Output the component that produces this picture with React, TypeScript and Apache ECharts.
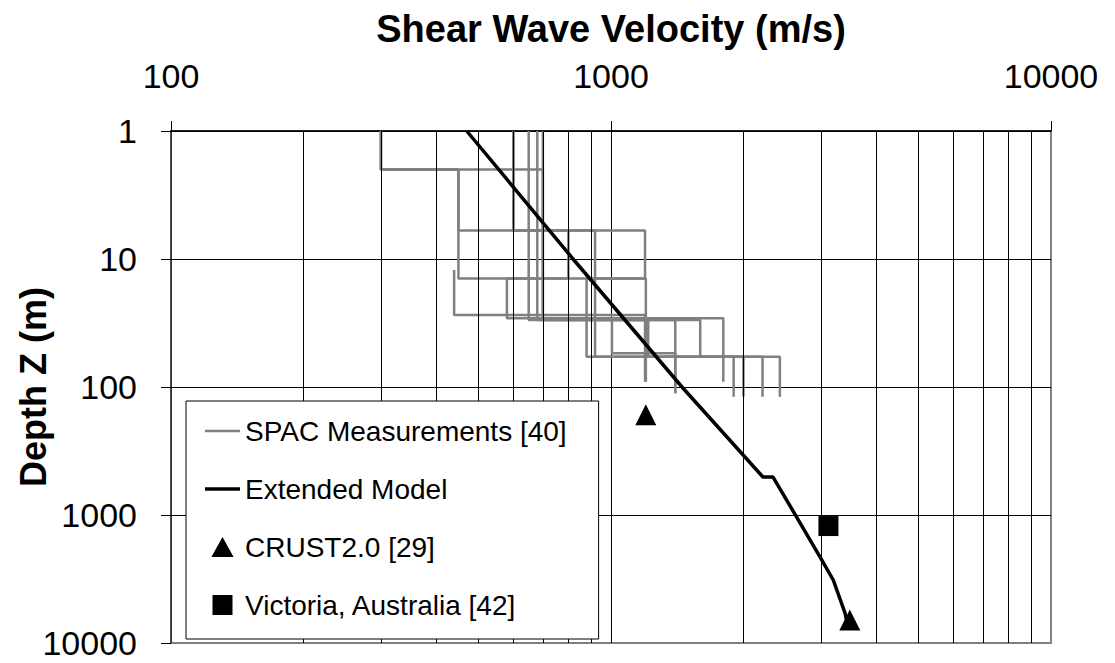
import React, { useEffect, useRef } from 'react';
import * as echarts from 'echarts';

const FONT = '"Liberation Sans", Arial, Helvetica, sans-serif';

// Axis ranges and minor vertical grid positions (m/s)
const velocityRange = [100, 10000];
const depthRange = [1, 10000];
const minorVelocityGrid = [200, 300, 400, 500, 600, 700, 800, 900, 2000, 3000, 4000, 5000, 6000, 7000, 8000, 9000];

// SPAC site profiles: layer velocities (m/s) and layer boundary depths (m)
const spacVelocities = [
  [300, 450, 1200],
  [300, 700, 1400],
  [650, 1215, 2000],
  [680, 1595, 2210],
  [700, 1800],
  [600, 920, 2420],
  [300, 450, 1195, 880, 1900],
  [600, 800, 580, 1005, 1400],
  [440, 1195],
];
const spacDepths = [
  [1, 2, 14.2, 91],
  [1, 2, 30, 112],
  [1, 30, 58, 119],
  [1, 30, 58, 119],
  [1, 29, 91],
  [1, 6, 58, 119],
  [1, 2, 6, 14.2, 58, 119],
  [1, 6, 14.2, 29, 54.6, 112],
  [12.2, 27.4, 91],
];

// Extended velocity model
const modelVelocity = [470, 820, 1450, 2215, 2335, 2985, 3200, 3405, 3460];
const modelDepth = [1, 10, 100, 505, 505, 2120, 3220, 5870, 7700];

// Reference points
const crustVelocity = [1200, 3490];
const crustDepth = [165, 6600];
const victoriaVelocity = [3120];
const victoriaDepth = [1220];

const SPAC_NAME = 'SPAC Measurements [40]';
const MODEL_NAME = 'Extended Model';
const CRUST_NAME = 'CRUST2.0 [29]';
const VIC_NAME = 'Victoria, Australia [42]';

function stepProfile(v: number[], d: number[]) {
  const pts: number[][] = [];
  for (let i = 0; i < v.length; i++) {
    pts.push([v[i], d[i]]);
    pts.push([v[i], d[i + 1]]);
  }
  return pts;
}

function zip(a: number[], b: number[]) {
  return a.map((x, i) => [x, b[i]]);
}

export default function App() {
  const ref = useRef<HTMLDivElement>(null);

  useEffect(() => {
    document.body.style.margin = '0';
    const chart = echarts.init(ref.current!, null, { renderer: 'svg' });

    const spacSeries = spacVelocities.map((v, i) => ({
      name: SPAC_NAME,
      type: 'line',
      data: stepProfile(v, spacDepths[i]),
      symbol: 'none',
      lineStyle: { color: '#808080', width: 2.5 },
      itemStyle: { color: '#808080' },
      z: 2,
      silent: true,
    }));

    chart.setOption({
      animation: false,
      backgroundColor: '#fff',
      textStyle: { fontFamily: FONT },
      grid: {
        left: 171,
        right: 64,
        top: 131,
        bottom: 20,
        outerBoundsMode: 'none',
        containLabel: false,
        show: true,
        borderColor: '#808080',
        borderWidth: 2,
        backgroundColor: 'transparent',
      },
      legend: {
        orient: 'vertical',
        left: 186,
        top: 401,
        padding: [16, 32, 20, 19],
        itemWidth: 35,
        itemHeight: 20,
        itemGap: 30,
        borderColor: '#000',
        borderWidth: 1,
        backgroundColor: '#fff',
        selectedMode: false,
        symbolKeepAspect: true,
        textStyle: { fontSize: 28, color: '#000', fontFamily: FONT, lineHeight: 28 },
        data: [
          { name: SPAC_NAME, icon: 'path://M0,0H35V2.5H0Z' },
          { name: MODEL_NAME, icon: 'path://M0,0H35V3.5H0Z' },
          { name: CRUST_NAME, icon: 'path://M10,0L20,18L0,18Z' },
          { name: VIC_NAME, icon: 'path://M0,0H18V18H0Z' },
        ],
        z: 10,
      },
      xAxis: {
        type: 'log',
        logBase: 10,
        min: velocityRange[0],
        max: velocityRange[1],
        position: 'top',
        name: 'Shear Wave Velocity (m/s)',
        nameLocation: 'middle',
        nameGap: 83,
        nameTextStyle: { fontSize: 38, fontWeight: 'bold', color: '#000', fontFamily: FONT },
        axisLine: { show: true, lineStyle: { color: '#000', width: 1.5 } },
        axisTick: { show: true, length: 10, lineStyle: { color: '#000', width: 1 } },
        axisLabel: {
          fontSize: 34,
          color: '#000',
          margin: 38,
          fontFamily: FONT,
          formatter: (val: number) => String(Math.round(val)),
        },
        splitLine: { show: true, showMaxLine: false, lineStyle: { color: '#000', width: 1 } },
      },
      yAxis: {
        type: 'log',
        logBase: 10,
        min: depthRange[0],
        max: depthRange[1],
        inverse: true,
        name: 'Depth Z (m)',
        nameLocation: 'middle',
        nameRotate: 90,
        nameGap: 120,
        nameMoveOverlap: false,
        nameTextStyle: { fontSize: 36, fontWeight: 'bold', color: '#000', fontFamily: FONT },
        axisLine: { show: true, lineStyle: { color: '#404040', width: 1.5 } },
        axisTick: { show: true, length: 10, lineStyle: { color: '#000', width: 1 } },
        axisLabel: {
          fontSize: 34,
          color: '#000',
          margin: 34,
          fontFamily: FONT,
          formatter: (val: number) => String(Math.round(val)),
        },
        splitLine: { show: true, showMaxLine: false, lineStyle: { color: '#000', width: 1 } },
      },
      series: [
        {
          type: 'line',
          data: [],
          silent: true,
          z: 1,
          markLine: {
            silent: true,
            symbol: ['none', 'none'],
            label: { show: false },
            emphasis: { disabled: true },
            lineStyle: { color: '#000', width: 1, type: 'solid' },
            data: minorVelocityGrid.map((v) => ({ xAxis: v })),
          },
        },
        ...spacSeries,
        {
          name: MODEL_NAME,
          type: 'line',
          data: zip(modelVelocity, modelDepth),
          symbol: 'none',
          lineStyle: { color: '#000', width: 3.5 },
          itemStyle: { color: '#000' },
          z: 3,
          silent: true,
        },
        {
          name: CRUST_NAME,
          type: 'scatter',
          data: zip(crustVelocity, crustDepth),
          symbol: 'triangle',
          symbolSize: 21,
          itemStyle: { color: '#000', opacity: 1 },
          z: 4,
          silent: true,
        },
        {
          name: VIC_NAME,
          type: 'scatter',
          data: zip(victoriaVelocity, victoriaDepth),
          symbol: 'rect',
          symbolSize: 20,
          itemStyle: { color: '#000', opacity: 1 },
          z: 4,
          silent: true,
        },
      ],
    });

    return () => chart.dispose();
  }, []);

  return (
    <div
      ref={ref}
      style={{ position: 'absolute', left: 0, top: 0, width: 1115, height: 663, background: '#fff' }}
    />
  );
}
